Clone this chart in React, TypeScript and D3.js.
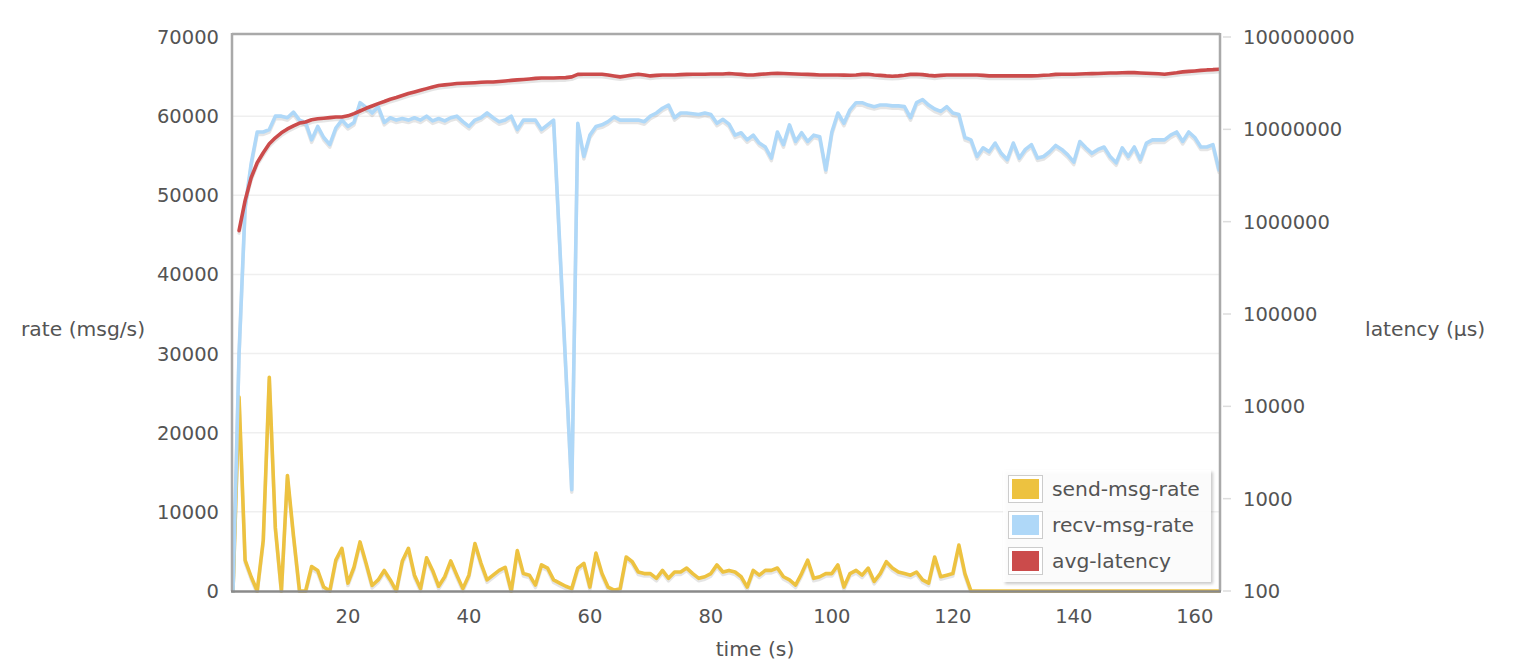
import React from "react";
import * as d3 from "d3";

const sendRate: number[] = [
  0, 24500, 3900, 1800, 0, 6400, 27000, 8000, 0, 14600,
  7000, 0, 0, 3100, 2600, 500, 0, 3900, 5400, 1000,
  3000, 6200, 3500, 700, 1400, 2600, 1400, 0, 3800, 5400,
  2000, 300, 4200, 2600, 600, 1800, 3800, 2000, 300, 2000,
  6000, 3500, 1400, 2000, 2600, 3000, 0, 5100, 2200, 2000,
  750, 3300, 2900, 1400, 1000, 600, 300, 2900, 3500, 500,
  4800, 2200, 500, 100, 300, 4300, 3700, 2400, 2200, 2200,
  1600, 2600, 1600, 2400, 2400, 2900, 2200, 1600, 1800, 2200,
  3300, 2400, 2600, 2400, 1800, 500, 2600, 2000, 2600, 2600,
  2900, 1800, 1400, 750, 2200, 3900, 1600, 1800, 2200, 2200,
  3300, 500, 2200, 2600, 2000, 2900, 1200, 2200, 3700, 2900,
  2400, 2200, 2000, 2400, 1400, 1000, 4300, 1800, 2000, 2200,
  5800, 2200, 0, 0, 0, 0, 0, 0, 0, 0,
  0, 0, 0, 0, 0, 0, 0, 0, 0, 0,
  0, 0, 0, 0, 0, 0, 0, 0, 0, 0,
  0, 0, 0, 0, 0, 0, 0, 0, 0, 0,
  0, 0, 0, 0,
];

const recvRate: number[] = [
  0, 30000, 48500, 54000, 58000, 58000, 58300, 60000, 60000, 59800,
  60500, 59500, 59200, 57000, 58700, 57300, 56400, 58500, 59500, 58700,
  59200, 61700, 61100, 60400, 61200, 59200, 59800, 59500, 59700, 59500,
  59800, 59500, 60000, 59400, 59700, 59400, 59800, 60000, 59300, 58700,
  59500, 59800, 60400, 59800, 59300, 59500, 60000, 58300, 59500, 59500,
  59500, 58300, 58900, 59500, 44000, 28400, 12800, 59100, 54900, 57600,
  58700, 58900, 59300, 59900, 59500, 59500, 59500, 59500, 59300, 60000,
  60400, 61000, 61400, 59800, 60400, 60400, 60300, 60200, 60400, 60200,
  59100, 59600, 59000, 57600, 57900, 57000, 57600, 56600, 56100, 54700,
  58000, 56400, 58900, 56800, 57900, 56800, 57600, 57400, 53200, 58000,
  60400, 59100, 60800, 61700, 61700, 61400, 61200, 61400, 61400, 61300,
  61300, 61200, 59800, 61700, 62100, 61400, 60900, 60600, 61200, 60400,
  60200, 57300, 57000, 54900, 56000, 55500, 56600, 55300, 54500, 56600,
  54700, 55800, 56400, 54700, 54900, 55500, 56300, 55800, 55100, 54200,
  56800, 56000, 55300, 55800, 56100, 54900, 54100, 56000, 54900, 56100,
  54500, 56600, 57000, 57000, 57000, 57600, 58000, 56800, 58000, 57300,
  56100, 56100, 56400, 53200,
];

const avgLatency: (number | null)[] = [
  null, 8.0e5, 1.69e6, 2.99e6, 4.35e6, 5.57e6, 6.97e6, 8.09e6, 9.16e6, 1.01e7,
  1.09e7, 1.17e7, 1.2e7, 1.27e7, 1.3e7, 1.32e7, 1.34e7, 1.36e7, 1.36e7, 1.4e7,
  1.48e7, 1.58e7, 1.69e7, 1.79e7, 1.9e7, 2.0e7, 2.12e7, 2.21e7, 2.32e7, 2.44e7,
  2.54e7, 2.65e7, 2.76e7, 2.88e7, 2.98e7, 3.03e7, 3.08e7, 3.13e7, 3.16e7, 3.18e7,
  3.2e7, 3.23e7, 3.25e7, 3.26e7, 3.3e7, 3.34e7, 3.39e7, 3.43e7, 3.47e7, 3.51e7,
  3.56e7, 3.6e7, 3.6e7, 3.6e7, 3.62e7, 3.63e7, 3.7e7, 3.94e7, 3.95e7, 3.95e7,
  3.95e7, 3.95e7, 3.88e7, 3.79e7, 3.7e7, 3.79e7, 3.88e7, 3.95e7, 3.88e7, 3.79e7,
  3.84e7, 3.88e7, 3.88e7, 3.88e7, 3.91e7, 3.94e7, 3.95e7, 3.95e7, 3.95e7, 3.98e7,
  3.98e7, 3.98e7, 4.03e7, 3.98e7, 3.94e7, 3.88e7, 3.88e7, 3.94e7, 3.98e7, 4.03e7,
  4.05e7, 4.03e7, 4.0e7, 3.98e7, 3.95e7, 3.94e7, 3.91e7, 3.88e7, 3.88e7, 3.88e7,
  3.88e7, 3.86e7, 3.85e7, 3.88e7, 3.94e7, 3.95e7, 3.88e7, 3.84e7, 3.79e7, 3.76e7,
  3.79e7, 3.85e7, 3.94e7, 3.95e7, 3.91e7, 3.84e7, 3.79e7, 3.84e7, 3.88e7, 3.88e7,
  3.88e7, 3.88e7, 3.88e7, 3.88e7, 3.84e7, 3.79e7, 3.79e7, 3.79e7, 3.79e7, 3.79e7,
  3.79e7, 3.79e7, 3.79e7, 3.81e7, 3.85e7, 3.88e7, 3.94e7, 3.95e7, 3.95e7, 3.95e7,
  3.98e7, 4.0e7, 4.01e7, 4.03e7, 4.05e7, 4.08e7, 4.08e7, 4.1e7, 4.11e7, 4.11e7,
  4.08e7, 4.05e7, 4.03e7, 4.0e7, 3.95e7, 4.03e7, 4.1e7, 4.19e7, 4.24e7, 4.29e7,
  4.35e7, 4.4e7, 4.43e7, 4.48e7,
];

const xTicks = [20, 40, 60, 80, 100, 120, 140, 160];
const yLeftTicks = [0, 10000, 20000, 30000, 40000, 50000, 60000, 70000];
const yRightTicks = [100, 1000, 10000, 100000, 1000000, 10000000, 100000000];
const seriesNames = ["send-msg-rate", "recv-msg-rate", "avg-latency"];
const seriesColors = ["#edc240", "#afd8f8", "#cb4b4b"];

const FONT = "'DejaVu Sans', Verdana, sans-serif";
const TXT = "#545454";

export default function App() {
  const W = 1514, H = 664;
  const left = 233, right = 1219, top = 37, bottom = 591;
  const x = d3.scaleLinear().domain([1, 164]).range([left, right]);
  const yL = d3.scaleLinear().domain([0, 70000]).range([bottom, top]);
  const yR = d3.scaleLog().domain([100, 1e8]).range([bottom, top]);

  const pts = (arr: (number | null)[]) => arr.map((v, i) => ({ t: i + 1, v }));
  const lineL = d3.line<{ t: number; v: number | null }>()
    .defined((d) => d.v != null)
    .x((d) => x(d.t))
    .y((d) => yL(d.v as number));
  const lineR = d3.line<{ t: number; v: number | null }>()
    .defined((d) => d.v != null)
    .x((d) => x(d.t))
    .y((d) => yR(d.v as number));

  const paths = [
    lineL(pts(sendRate)) || "",
    lineL(pts(recvRate)) || "",
    lineR(pts(avgLatency)) || "",
  ];

  const fLeft = 232, fRight = 1220, fTop = 34;
  const tickFs = 19.5;
  const labFs = 20.3;

  return (
    <svg width={W} height={H} style={{ position: "absolute", left: 0, top: 0, background: "#fff" }} fontFamily={FONT}>
      <defs>
        <clipPath id="plotclip">
          <rect x={fLeft} y={fTop} width={fRight - fLeft} height={bottom - fTop + 2} />
        </clipPath>
        <filter id="lgshadow" x="-10%" y="-10%" width="130%" height="130%">
          <feDropShadow dx="2" dy="2" stdDeviation="1.5" floodColor="#000" floodOpacity="0.25" />
        </filter>
      </defs>
      {/* gridlines */}
      {yLeftTicks.slice(1, -1).map((t) => (
        <line key={"g" + t} x1={fLeft} x2={fRight} y1={yL(t)} y2={yL(t)} stroke="#efefef" strokeWidth={1.5} />
      ))}
      {/* series */}
      <g clipPath="url(#plotclip)" fill="none" strokeLinejoin="round" strokeLinecap="round">
        {paths.map((d, i) => (
          <path key={"s" + i} d={d} transform="translate(0,2.5)" stroke="rgba(0,0,0,0.1)" strokeWidth={3.5} />
        ))}
        {paths.map((d, i) => (
          <path key={"l" + i} d={d} stroke={seriesColors[i]} strokeWidth={3.6} />
        ))}
      </g>
      {/* frame */}
      <line x1={fLeft} x2={fLeft} y1={fTop - 1} y2={bottom} stroke="#a9a9a9" strokeWidth={2.5} />
      <line x1={fLeft} x2={fRight} y1={fTop} y2={fTop} stroke="#a9a9a9" strokeWidth={2.5} />
      <line x1={fRight} x2={fRight} y1={fTop - 1} y2={bottom} stroke="#a9a9a9" strokeWidth={2.5} />
      <line x1={fLeft - 1} x2={fRight + 1} y1={bottom + 0.5} y2={bottom + 0.5} stroke="#8a8a8a" strokeWidth={2.5} />
      {/* left axis labels */}
      {yLeftTicks.map((t) => (
        <text key={"yl" + t} x={219} y={yL(t)} dy="0.36em" textAnchor="end" fontSize={tickFs} fill={TXT}>
          {t}
        </text>
      ))}
      {/* right axis ticks and labels */}
      {yRightTicks.map((t) => (
        <g key={"yr" + t}>
          <line x1={fRight + 3} x2={fRight + 11} y1={yR(t)} y2={yR(t)} stroke="#ddd" strokeWidth={1.5} />
          <text x={1243} y={yR(t)} dy="0.36em" textAnchor="start" fontSize={tickFs} fill={TXT}>
            {t}
          </text>
        </g>
      ))}
      {/* x axis labels */}
      {xTicks.map((t) => (
        <text key={"x" + t} x={x(t)} y={616} dy="0.36em" textAnchor="middle" fontSize={tickFs} fill={TXT}>
          {t}
        </text>
      ))}
      <text x={755} y={649} dy="0.36em" textAnchor="middle" fontSize={labFs} fill={TXT}>time (s)</text>
      <text x={21} y={329} dy="0.36em" textAnchor="start" fontSize={labFs} fill={TXT}>rate (msg/s)</text>
      <text x={1365} y={329} dy="0.36em" textAnchor="start" fontSize={labFs} fill={TXT}>latency (µs)</text>
      {/* legend */}
      <g>
        <rect x={1003} y={470} width={208} height={112} fill="#fff" fillOpacity={0.85} filter="url(#lgshadow)" />
        {seriesNames.map((n, i) => {
          const yy = 475 + i * 36;
          return (
            <g key={"lg" + n}>
              <rect x={1008.5} y={yy + 0.5} width={34} height={27} fill="#fff" stroke="#ccc" strokeWidth={1} />
              <rect x={1012} y={yy + 4} width={27} height={20} fill={seriesColors[i]} />
              <text x={1052} y={yy + 14} dy="0.36em" fontSize={labFs} fill={TXT}>{n}</text>
            </g>
          );
        })}
      </g>
    </svg>
  );
}
